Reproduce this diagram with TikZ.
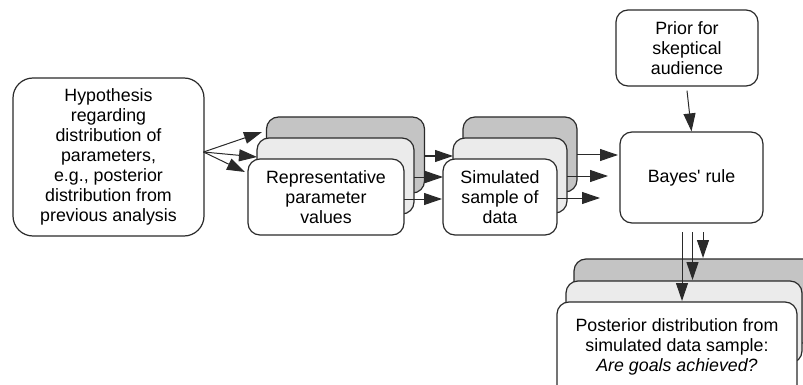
\documentclass[tikz,border=0pt]{standalone}
\usepackage{fontspec}
\setmainfont{Liberation Sans}[Ligatures=TeXOff]
\usetikzlibrary{arrows.meta}
\definecolor{edge}{HTML}{2A2A2A}
\definecolor{backgray}{HTML}{C4C4C4}
\definecolor{midgray}{HTML}{EBEBEB}
\tikzset{
  box/.style={draw=edge, line width=1.2pt, rounded corners=12pt, fill=white,
    align=center, inner sep=0pt, font=\fontsize{17.8}{20}\selectfont},
  backbox/.style={box, fill=backgray},
  midbox/.style={box, fill=midgray},
  arr/.style={draw=edge, line width=1pt, -{Triangle[length=18pt,width=12pt]}},
}
\begin{document}
\begin{tikzpicture}[x=1pt,y=-1pt]
\useasboundingbox (0,0) rectangle (803,385);
\begin{scope}
\clip (0,0) rectangle (803,385);
% Hypothesis
\node[box, rounded corners=20pt, minimum width=191pt, minimum height=158pt] (hyp) at (108.5,157)
  {Hypothesis\\regarding\\distribution of\\parameters,\\e.g., posterior\\distribution from\\previous analysis};
% parameter stack
\node[backbox, minimum width=158pt, minimum height=76pt] (pb) at (345.5,155) {};
\node[midbox, minimum width=157pt, minimum height=76pt] (pm) at (335.5,176) {};
\node[box, minimum width=156pt, minimum height=76pt] (pf) at (326,197) {Representative\\parameter\\values};
% simulated stack
\node[backbox, minimum width=114pt, minimum height=75pt] (sb) at (520,154.5) {};
\node[midbox, minimum width=114pt, minimum height=75pt] (sm) at (510,175.5) {};
\node[box, minimum width=114pt, minimum height=76pt] (sf) at (500,197) {Simulated\\sample of\\data};
% Bayes and prior
\node[box, minimum width=143pt, minimum height=91pt] (bayes) at (691.5,177.5) {Bayes' rule};
\node[box, minimum width=142pt, minimum height=76pt] (prior) at (687,48) {Prior for\\skeptical\\audience};
% posterior stack
\node[backbox, minimum width=250pt, minimum height=84pt] (qb) at (699,301) {};
\node[midbox, minimum width=236pt, minimum height=82pt] (qm) at (684,322) {};
\node[box, minimum width=240pt, minimum height=110pt] (qf) at (677,357) {};
\node[font=\fontsize{17.8}{20}\selectfont, align=center, anchor=north] (qt) at (677,315)
  {Posterior distribution from\\simulated data sample:\\\textit{Are goals achieved?}};
% hypothesis -> parameters
\coordinate (h0) at (203.5,152);
\coordinate (t1) at (262,132);
\coordinate (t2) at (257,157);
\coordinate (t3) at (245,172);
\draw[arr] (h0) -- (t1);
\draw[arr] (h0) -- (t2);
\draw[arr] (h0) -- (t3);
% param -> sim
\coordinate (a1) at (424.5,156);
\coordinate (a1e) at (453,156);
\coordinate (a2) at (414,177);
\coordinate (a2e) at (443,177);
\coordinate (a3) at (404,199);
\coordinate (a3e) at (442,199);
\draw[arr] (a1) -- (a1e);
\draw[arr] (a2) -- (a2e);
\draw[arr] (a3) -- (a3e);
% sim -> bayes
\coordinate (b1) at (577,155);
\coordinate (b1e) at (618,155);
\coordinate (b2) at (567,176);
\coordinate (b2e) at (608,176);
\coordinate (b3) at (557,198);
\coordinate (b3e) at (600,198);
\draw[arr] (b1) -- (b1e);
\draw[arr] (b2) -- (b2e);
\draw[arr] (b3) -- (b3e);
% prior -> bayes
\coordinate (p0) at ([yshift=-4pt]prior.south);
\draw[arr] (p0) -- (bayes.north);
% bayes -> posterior
\coordinate (c1) at (682,232);
\coordinate (c1e) at (682,301);
\coordinate (c2) at (692.5,232);
\coordinate (c2e) at (692.5,280);
\coordinate (c3) at (703,232);
\coordinate (c3e) at (703,258);
\draw[arr] (c1) -- (c1e);
\draw[arr] (c2) -- (c2e);
\draw[arr] (c3) -- (c3e);
\end{scope}
\end{tikzpicture}
\end{document}
